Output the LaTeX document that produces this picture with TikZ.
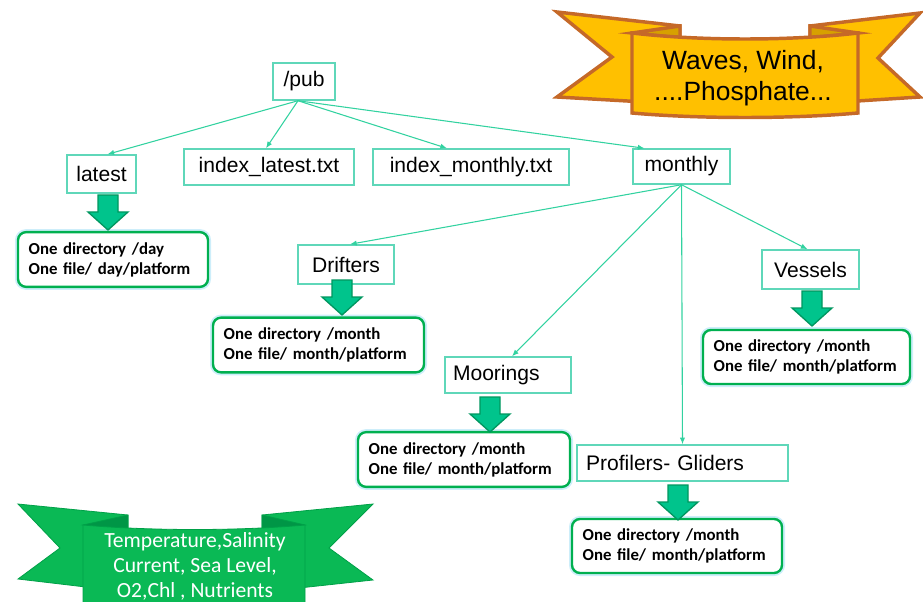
\documentclass[tikz,border=0pt]{standalone}
\usepackage{fontspec}
\setmainfont{Liberation Sans}
\newfontfamily\carl{Carlito}
\usetikzlibrary{arrows.meta,calc}
\definecolor{nodeC}{RGB}{95,215,185}
\definecolor{lineC}{RGB}{50,210,160}
\definecolor{arrF}{RGB}{0,196,140}
\definecolor{arrD}{RGB}{0,150,95}
\definecolor{resC}{RGB}{0,176,80}
\definecolor{glowC}{RGB}{205,238,250}
\definecolor{orF}{RGB}{255,192,0}
\definecolor{orD}{RGB}{197,105,40}
\definecolor{orFold}{RGB}{215,160,0}
\definecolor{grF}{RGB}{10,185,85}
\definecolor{grD}{RGB}{0,160,72}
\definecolor{grFold}{RGB}{0,150,70}
\newcommand\twolines[2]{\mbox{#1}\\\mbox{#2}}
\begin{document}
\begin{tikzpicture}[x=0.75pt,y=-0.75pt,
  dirbox/.style={draw=nodeC, line width=1.1pt, fill=white, inner sep=0pt,
    align=center, font=\fontsize{15.8}{19}\selectfont},
  conn/.style={draw=lineC, line width=0.8pt, -{Latex[length=5pt,width=4pt]}},
  resbox/.style={draw=resC, line width=1.8pt, rounded corners=6pt, fill=white,
    align=left, inner xsep=8pt, inner ysep=0pt, minimum height=41pt,
    font=\carl\bfseries\fontsize{12.6}{15}\selectfont,
    preaction={draw=glowC, line width=4.5pt}},
  orband/.style={fill=orF, draw=orD, line width=2.6pt, line join=miter},
  grband/.style={fill=grF, draw=grD, line width=0.6pt, line join=miter},
  downarr/.pic={\draw[fill=arrF, draw=arrD, line width=1pt, line join=miter]
    (-10,0) -- (10,0) -- (10,17) -- (20,17) -- (0,35) -- (-20,17) -- (-10,17) -- cycle;}
]
\useasboundingbox (0,0) rectangle (923,602);
\clip (0,0) rectangle (923,602);

% ---------- orange banner ----------
\draw[orband] (557,12) -- (680,26) -- (680,104) -- (557,97) -- (612,57) -- cycle;
\draw[orband] (920,13) -- (810,26) -- (810,104) -- (920,97) -- (878,58) -- cycle;
\draw[orband, fill=orFold] (632,33) -- (680,26) -- (680,38) -- cycle;
\draw[orband, fill=orFold] (858,33) -- (810,26) -- (810,38) -- cycle;
\draw[orband] (632,33) .. controls (700,41) and (790,41) .. (858,33)
  -- (858,113) .. controls (790,119) and (700,119) .. (632,113) -- cycle;
\node[align=center, font=\fontsize{19.8}{23.5}\selectfont] (orText) at (743,78)
  {Waves, Wind,\\....Phosphate...};

% ---------- green banner ----------
\draw[grband] (18,504) -- (128,515) -- (128,592) -- (18,579) -- (60,548) -- cycle;
\draw[grband] (373,504) -- (262,515) -- (262,592) -- (373,580) -- (329,548) -- cycle;
\draw[grband, fill=grFold] (83,525) -- (128,515) -- (128,531) -- cycle;
\draw[grband, fill=grFold] (305,525) -- (262,515) -- (262,531) -- cycle;
\draw[grband] (83,525) .. controls (150,531) and (240,531) .. (305,525)
  -- (305,650) -- (83,650) -- cycle;
\node[align=center, text=white, font=\carl\fontsize{16.2}{18.75}\selectfont] (grText) at (195,566)
  {Temperature,Salinity\\Current, Sea Level,\\O2,Chl , Nutrients};

% ---------- directory nodes ----------
\node[dirbox, minimum width=46.5pt, minimum height=27.75pt] (pub) at (304,81.5) {/pub};
\node[dirbox, minimum width=51.75pt, minimum height=28.5pt] (latest) at (101.5,174) {latest};
\node[dirbox, minimum width=127.5pt, minimum height=27pt] (ilat) at (269,167) {index\_latest.txt};
\node[dirbox, minimum width=147pt, minimum height=27pt] (imon) at (471,167) {index\_monthly.txt};
\node[dirbox, minimum width=72.75pt, minimum height=26.25pt] (monthly) at (681.5,166.5) {monthly};
\node[dirbox, minimum width=72pt, minimum height=29.25pt] (drifters) at (346,264.5) {Drifters};
\node[dirbox, minimum width=72.75pt, minimum height=29.25pt] (vessels) at (810.5,269.5) {Vessels};
\node[dirbox, text width=82.5pt, inner xsep=6pt, align=left, minimum height=27pt] (moorings) at (508,375) {Moorings};
\node[dirbox, text width=144.75pt, inner xsep=6.75pt, align=left, minimum height=27pt] (profilers) at (682.5,463) {Profilers- Gliders};

% ---------- result boxes ----------
\node[resbox, text width=126.5pt] (rLatest) at (113,259.5) {\twolines{One directory /day}{One file/ day/platform}};
\node[resbox, text width=142.25pt] (rDrifters) at (318.5,345) {\twolines{One directory /month}{One file/ month/platform}};
\node[resbox, text width=139.25pt, minimum height=40.5pt] (rVessels) at (806.5,357) {\twolines{One directory /month}{One file/ month/platform}};
\node[resbox, text width=143pt] (rMoorings) at (464,459.5) {\twolines{One directory /month}{One file/ month/platform}};
\node[resbox, text width=141.5pt, minimum height=40.5pt] (rProfilers) at (677,546) {\twolines{One directory /month}{One file/ month/platform}};

% ---------- big arrows ----------
\pic at (108,195) {downarr};
\pic at (342,280) {downarr};
\pic at (812,291) {downarr};
\pic at (490,397) {downarr};
\pic at (678,485) {downarr};

% ---------- connectors ----------
\draw[conn] ($(pub.south)+(-6,0)$) -- ($(latest.north)+(6,0)$);
\draw[conn] ($(pub.south)+(-6,0)$) -- ($(ilat.north)+(-3,0)$);
\draw[conn] ($(pub.south)+(-6,0)$) -- ($(imon.north)+(-24,0)$);
\draw[conn] ($(pub.south)+(-6,0)$) -- ($(monthly.north)+(-37,0)$);
\draw[conn] (monthly.south) -- ($(drifters.north)+(4,0)$);
\draw[conn] (monthly.south) -- ($(moorings.north)+(4,0)$);
\draw[conn] (monthly.south) -- (profilers.north);
\draw[conn] (monthly.south) -- ($(vessels.north)+(-3,0)$);
\end{tikzpicture}
\end{document}
